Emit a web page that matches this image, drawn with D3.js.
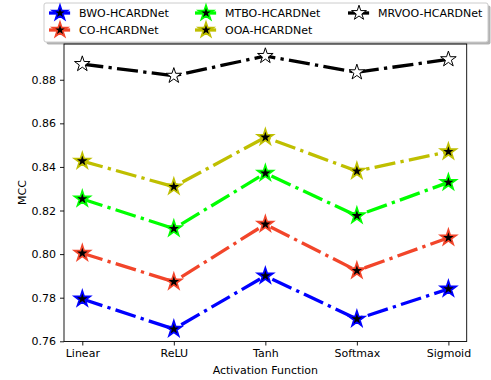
<!DOCTYPE html>
<html>
<head>
<meta charset="utf-8">
<script src="https://cdn.jsdelivr.net/npm/d3@7"></script>
<title>MCC vs activation function</title>
<style>
body { margin: 0; background: #fff; }
text { font-family: "DejaVu Sans", sans-serif; font-size: 11px; fill: #000; }
</style>
</head>
<body>
<script>

var categories = ["Linear", "ReLU", "Tanh", "Softmax", "Sigmoid"];
var seriesNames = ["BWO-HCARDNet", "CO-HCARDNet", "MTBO-HCARDNet", "OOA-HCARDNet", "MRVOO-HCARDNet"];
var bwo   = [0.7794, 0.7656, 0.7900, 0.7702, 0.7840];
var co    = [0.8004, 0.7873, 0.8137, 0.7924, 0.8075];
var mtbo  = [0.8253, 0.8117, 0.8371, 0.8176, 0.8329];
var ooa   = [0.8427, 0.8309, 0.8536, 0.8381, 0.8470];
var mrvoo = [0.8872, 0.8818, 0.8909, 0.8834, 0.8894];
var yTicks = [0.76, 0.78, 0.80, 0.82, 0.84, 0.86, 0.88];

var colors = ["#0000ff", "#f2452a", "#00ff00", "#bfbf00", "#000000"];
var fills  = ["#000", "#000", "#000", "#000", "#fff"];
var values = [bwo, co, mtbo, ooa, mrvoo];

var width = 491,
    height = 380;

var svg = d3.select( "body" )
  .append( "svg" )
  .attr( "width", width )
  .attr( "height", height );

var x = d3.scaleLinear()
    .domain([-0.2, 4.2])
    .range([64, 466.7]);

var y = d3.scaleLinear()
    .domain([0.7599, 0.8964])
    .range([341.5, 44]);

var lw = 3.3;
var dash = [6.4 * lw, 1.6 * lw, 1 * lw, 1.6 * lw].join(",");

// matplotlib style star, outer radius r
function star(r) {
  var pts = [];
  for (var i = 0; i < 10; i++) {
    var rr = i % 2 === 0 ? r : r * 0.381966;
    var a = -Math.PI / 2 + i * Math.PI / 5;
    pts.push([rr * Math.cos(a), rr * Math.sin(a)]);
  }
  return "M" + pts.map(function(p) { return p[0].toFixed(2) + "," + p[1].toFixed(2); }).join("L") + "Z";
}

// axes
var yAxis = d3.axisLeft(y)
  .tickValues(yTicks)
  .tickFormat(d3.format(".2f"))
  .tickSize(4)
  .tickPadding(4);

var xAxis = d3.axisBottom(x)
  .tickValues(d3.range(categories.length))
  .tickFormat(function(i) { return categories[i]; })
  .tickSize(4)
  .tickPadding(4);

var gy = svg.append("g").attr("transform", "translate(64,0)").call(yAxis);
var gx = svg.append("g").attr("transform", "translate(0,341.5)").call(xAxis);
[gx, gy].forEach(function(g) {
  g.select(".domain").remove();
  g.selectAll("text").style("font-size", "11px").style("font-family", "DejaVu Sans").attr("fill", "#111");
  g.selectAll("line").attr("stroke", "#000").attr("stroke-width", 0.9);
});

// lines
var line = d3.line()
  .x(function(d, i) { return x(i); })
  .y(function(d) { return y(d); });

values.forEach(function(vals, s) {
  svg.append("path")
    .attr("d", line(vals))
    .attr("fill", "none")
    .attr("stroke", colors[s])
    .attr("stroke-width", lw)
    .attr("stroke-dasharray", dash);
});

values.forEach(function(vals, s) {
  svg.selectAll(null)
    .data(vals)
    .enter()
    .append("path")
    .attr("d", star(8.2))
    .attr("transform", function(d, i) { return "translate(" + x(i) + "," + y(d) + ")"; })
    .attr("fill", fills[s])
    .attr("stroke", colors[s])
    .attr("stroke-width", s === 4 ? 1 : 1.7)
    .attr("stroke-linejoin", "miter");
});

// frame
svg.append("rect")
  .attr("x", 64).attr("y", 44)
  .attr("width", 466.7 - 64).attr("height", 341.5 - 44)
  .attr("fill", "none")
  .attr("stroke", "#000")
  .attr("stroke-width", 0.9);

// axis labels
svg.append("text")
  .attr("x", x(2)).attr("y", 374)
  .attr("text-anchor", "middle")
  .attr("fill", "#111")
  .text("Activation Function");

svg.append("text")
  .attr("transform", "translate(26,192.5) rotate(-90)")
  .attr("text-anchor", "middle")
  .attr("fill", "#111")
  .text("MCC");

// legend
var lg = svg.append("g");
lg.append("rect")
  .attr("x", 46.5).attr("y", 5.5)
  .attr("width", 444).attr("height", 39)
  .attr("rx", 2)
  .attr("fill", "#000").attr("opacity", 0.3);
lg.append("rect")
  .attr("x", 44).attr("y", 3)
  .attr("width", 444).attr("height", 39)
  .attr("rx", 2)
  .attr("fill", "#fff")
  .attr("stroke", "#ccc")
  .attr("stroke-width", 1);

var colX = [60, 206, 359];
var rowY = [13, 30];
seriesNames.forEach(function(name, s) {
  var cx = colX[Math.floor(s / 2)],
      cy = rowY[s % 2];
  lg.append("line")
    .attr("x1", cx - 11).attr("x2", cx + 11)
    .attr("y1", cy).attr("y2", cy)
    .attr("stroke", colors[s])
    .attr("stroke-width", lw)
    .attr("stroke-dasharray", dash);
  lg.append("path")
    .attr("d", star(7.8))
    .attr("transform", "translate(" + cx + "," + cy + ")")
    .attr("fill", fills[s])
    .attr("stroke", colors[s])
    .attr("stroke-width", s === 4 ? 1 : 1.7);
  lg.append("text")
    .attr("x", cx + 19).attr("y", cy + 4)
    .text(name);
});

</script>
</body>
</html>
